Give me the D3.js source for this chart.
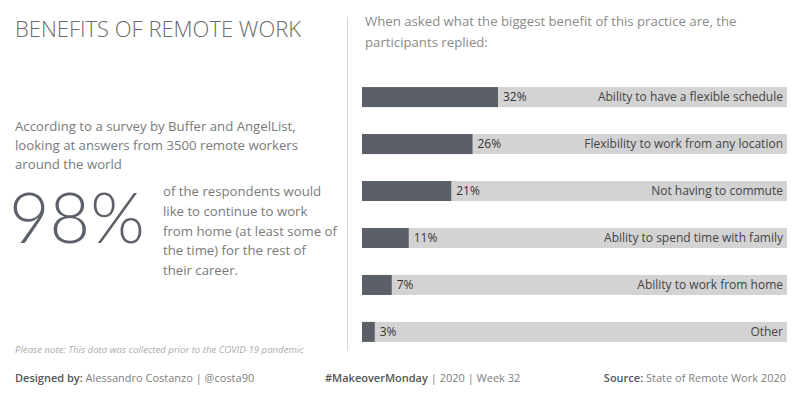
<!DOCTYPE html>
<html><head><meta charset="utf-8">
<script src="https://cdn.jsdelivr.net/npm/d3@7"></script>
<style>body{margin:0;background:#fff}svg{display:block}text{font-family:"Open Sans",Lato,sans-serif}</style>
</head><body>
<svg id="c" width="799" height="399"></svg>
<script>
const categories = ["Ability to have a flexible schedule","Flexibility to work from any location","Not having to commute","Ability to spend time with family","Ability to work from home","Other"];
const values = [32, 26, 21, 11, 7, 3];
const introLines = ["According to a survey by Buffer and AngelList,","looking at answers from 3500 remote workers","around the world"];
const bigNumber = "98%";
const bigLines = ["of the respondents would","like to continue to work","from home (at least some of","the time) for the rest of","their career."];
const headLines = ["When asked what the biggest benefit of this practice are, the","participants replied:"];

const svg = d3.select("#c");

svg.append("text").attr("x",15).attr("y",37).attr("font-size",22).attr("font-weight",300)
  .attr("fill","#6a6a6a").text("BENEFITS OF REMOTE WORK");

svg.append("g").selectAll("text").data(introLines).join("text")
  .attr("x",15).attr("y",(d,i)=>131+i*19).attr("font-size",13.2).attr("fill","#7a7a7a").text(d=>d);

svg.append("text").attr("x",9).attr("y",243).attr("font-size",70).attr("font-weight",300)
  .style("font-family","Lato, sans-serif").attr("fill","#5c6068").text(bigNumber);

svg.append("g").selectAll("text").data(bigLines).join("text")
  .attr("x",163).attr("y",(d,i)=>196+i*19.8).attr("font-size",13.2).attr("fill","#7a7a7a").text(d=>d);

svg.append("text").attr("x",15).attr("y",353).attr("font-size",9.6).attr("font-style","italic")
  .attr("fill","#ababab").text("Please note: This data was collected prior to the COVID-19 pandemic");

svg.append("line").attr("x1",347.5).attr("x2",347.5).attr("y1",17).attr("y2",350)
  .attr("stroke","#d6d6d6").attr("stroke-width",1);

svg.append("g").selectAll("text").data(headLines).join("text")
  .attr("x",365).attr("y",(d,i)=>26+i*20.5).attr("font-size",13.2).attr("fill","#8a8a8a").text(d=>d);

const x = d3.scaleLinear().domain([0,100]).range([362,787]);
const y = d3.scaleBand().domain(categories).range([73,356]).paddingInner(0.574).paddingOuter(0.3);

const g = svg.append("g");
const rows = g.selectAll("g").data(categories.map((c,i)=>({c,v:values[i]}))).join("g");
rows.append("rect").attr("x",x(0)).attr("y",d=>y(d.c)).attr("width",x(100)-x(0)).attr("height",y.bandwidth()).attr("fill","#d3d3d3");
rows.append("rect").attr("x",x(0)).attr("y",d=>y(d.c)).attr("width",d=>x(d.v)-x(0)).attr("height",y.bandwidth()).attr("fill","#5b5f68");
rows.append("text").attr("x",d=>x(d.v)+5).attr("y",d=>y(d.c)+y.bandwidth()/2).attr("dy","0.36em")
  .attr("font-size",12).attr("fill","#333").text(d=>d.v+"%");
rows.append("text").attr("x",783).attr("y",d=>y(d.c)+y.bandwidth()/2).attr("dy","0.36em").attr("text-anchor","end")
  .attr("font-size",12).attr("fill","#444").text(d=>d.c);

function footer(xp, anchor, bold, rest){
  const t = svg.append("text").attr("x",xp).attr("y",382).attr("font-size",11).attr("text-anchor",anchor);
  t.append("tspan").attr("font-weight",600).attr("fill","#555").text(bold);
  t.append("tspan").attr("fill","#808080").text(rest);
}
footer(15,"start","Designed by: ","Alessandro Costanzo | @costa90");
footer(325,"start","#MakeoverMonday"," | 2020 | Week 32");
footer(786,"end","Source: ","State of Remote Work 2020");
</script>
</body></html>
